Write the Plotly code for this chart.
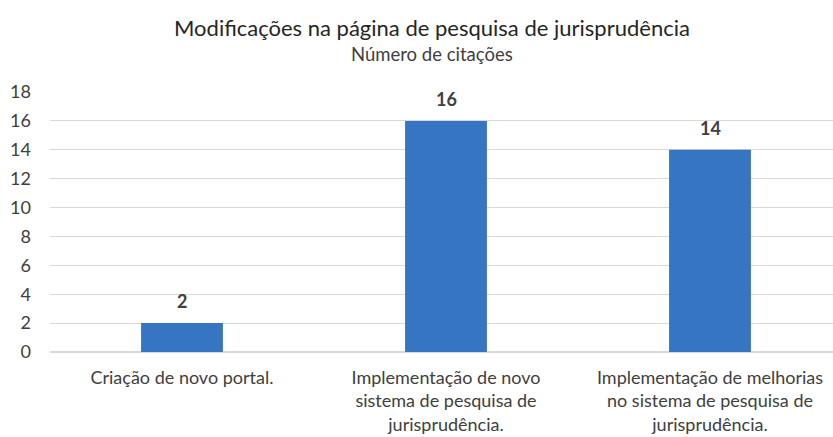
import plotly.graph_objects as go

categories = [
    "Criação de novo portal.",
    "Implementação de novo<br>sistema de pesquisa de<br>jurisprudência.",
    "Implementação de melhorias<br>no sistema de pesquisa de<br>jurisprudência.",
]
citations = [2, 16, 14]
y_ticks = [0, 2, 4, 6, 8, 10, 12, 14, 16, 18]

title_text = "Modificações na página de pesquisa de jurisprudência"
subtitle_text = "Número de citações"

FONT = "Lato"
W, H = 833, 437
ML, MR, MT, MB = 50, 0, 92, 85
plot_w = W - ML - MR
plot_h = H - MT - MB

fig = go.Figure(
    go.Bar(
        x=categories,
        y=citations,
        marker=dict(color="#3575C2", line=dict(width=0)),
        width=0.31,
        hoverinfo="x+y",
    )
)

# value labels above each bar
for cat, val in zip(categories, citations):
    fig.add_annotation(
        x=cat, y=val, text=f"<b>{val}</b>", showarrow=False,
        yanchor="bottom", yshift=9,
        font=dict(family=FONT, size=18, color="#404040"),
    )

# title and subtitle, positioned in pixels from the top
def py(px_from_top):
    return 1 + (MT - px_from_top) / plot_h

cx = (432 - ML) / plot_w
fig.add_annotation(text=title_text, x=cx, y=py(27), xref="paper", yref="paper",
                   yanchor="middle", showarrow=False,
                   font=dict(family=FONT, size=22, color="#262626"))
fig.add_annotation(text=subtitle_text, x=cx, y=py(54), xref="paper", yref="paper",
                   yanchor="middle", showarrow=False,
                   font=dict(family=FONT, size=18.5, color="#404040"))

fig.update_layout(
    width=W,
    height=H,
    margin=dict(l=ML, r=MR, t=MT, b=MB),
    paper_bgcolor="white",
    plot_bgcolor="white",
    showlegend=False,
    font=dict(family=FONT, size=18, color="#404040"),
)

fig.update_xaxes(
    type="category",
    range=[-0.5, -0.5 + plot_w / 264],
    showgrid=False,
    showline=False,
    ticks="",
    ticklabelstandoff=13,
    tickfont=dict(family=FONT, size=18, color="#404040"),
)
fig.update_yaxes(
    range=[0, 18],
    tickvals=y_ticks,
    showgrid=True,
    gridcolor="#d9d9d9",
    gridwidth=1,
    zeroline=True,
    zerolinecolor="#d9d9d9",
    ticks="",
    ticklabelstandoff=18,
    tickfont=dict(family=FONT, size=18, color="#404040"),
)

fig.write_html("out.html")
